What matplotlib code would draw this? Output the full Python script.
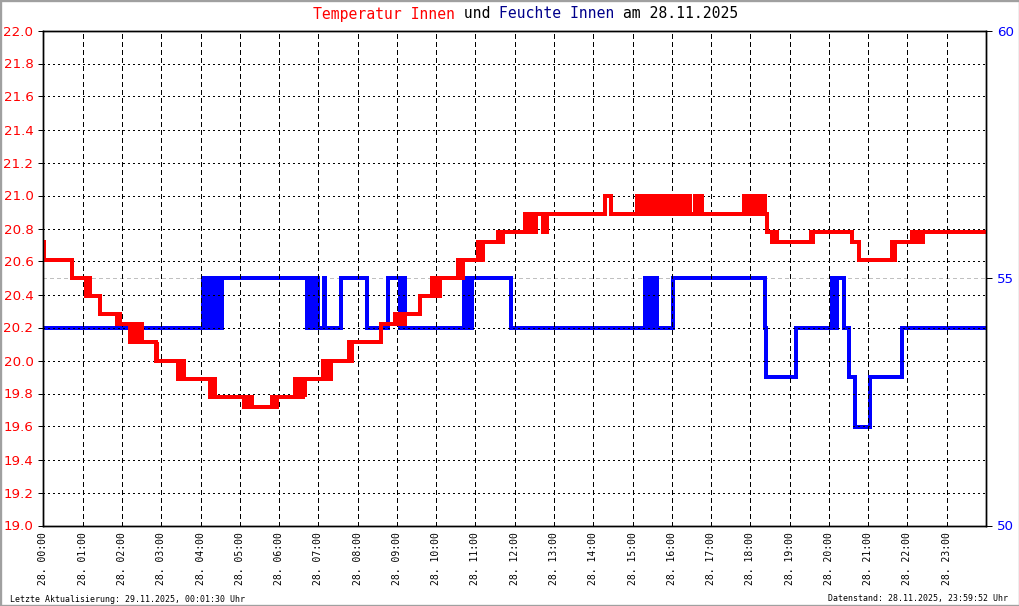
"""
Temperatur / Feuchte Innen, 28.11.2025 - Tagesverlauf
"""
import matplotlib
matplotlib.use('Agg')
import matplotlib.pyplot as plt
from matplotlib.patches import Rectangle
import numpy as np

# ── Messwerte (Minute des Tages, Wert) ──────────────────────
temp_min = [0, 1, 44,
            65, 67, 69, 70, 71,
            87,
            113, 115, 117,
            132, 134, 136, 139, 141, 144, 146, 148, 150,
            172, 173, 174,
            206, 208, 210, 212, 214,
            255, 257, 259, 261, 262,
            307, 309, 311, 313, 315, 317, 319,
            349, 351, 353, 355, 357,
            384, 386, 388, 390, 393, 395, 397, 399, 400,
            427, 429, 431, 434, 436, 438, 440,
            467, 469, 471,
            516,
            537, 539, 541, 544, 547, 550, 553,
            575,
            594, 596, 598, 600, 603, 605, 606,
            633, 635, 637, 639, 641,
            664, 666, 668, 670, 672,
            695, 697, 699, 701, 702,
            736, 738, 741, 744, 747, 750, 753,
            763, 765, 767, 769,
            858, 867,
            907, 909, 910, 912, 913, 915, 917, 919, 921, 923, 925, 927,
            929, 931, 933, 936, 942, 944, 946, 948, 950, 952, 954, 956,
            958, 960, 965, 967, 969, 971, 973, 975, 977, 979, 981, 983,
            985, 988, 995, 997, 999, 1001, 1003, 1006,
            1071, 1074, 1078, 1082, 1085, 1089, 1094, 1097, 1099, 1103,
            1105,
            1113, 1115, 1117, 1119, 1121,
            1173, 1174, 1176,
            1235, 1246,
            1297, 1299, 1301,
            1327, 1329, 1331, 1334, 1337, 1340, 1343,
            1440]
temp_val = [20.72, 20.61, 20.50,
            20.39, 20.50, 20.39, 20.50, 20.39,
            20.28,
            20.22, 20.28, 20.22,
            20.11, 20.22, 20.11, 20.22, 20.11, 20.22, 20.11, 20.22, 20.11,
            20.00, 20.11, 20.00,
            19.89, 20.00, 19.89, 20.00, 19.89,
            19.78, 19.89, 19.78, 19.89, 19.78,
            19.72, 19.78, 19.72, 19.78, 19.72, 19.78, 19.72,
            19.78, 19.72, 19.78, 19.72, 19.78,
            19.89, 19.78, 19.89, 19.78, 19.89, 19.78, 19.89, 19.78, 19.89,
            20.00, 19.89, 20.00, 19.89, 20.00, 19.89, 20.00,
            20.11, 20.00, 20.11,
            20.22,
            20.28, 20.22, 20.28, 20.22, 20.28, 20.22, 20.28,
            20.39,
            20.50, 20.39, 20.50, 20.39, 20.50, 20.39, 20.50,
            20.61, 20.50, 20.61, 20.50, 20.61,
            20.72, 20.61, 20.72, 20.61, 20.72,
            20.78, 20.72, 20.78, 20.72, 20.78,
            20.89, 20.78, 20.89, 20.78, 20.89, 20.78, 20.89,
            20.78, 20.89, 20.78, 20.89,
            21.00, 20.89,
            21.00, 20.89, 21.00, 20.89, 21.00, 20.89, 21.00, 20.89, 21.00, 20.89, 21.00, 20.89,
            21.00, 20.89, 21.00, 20.89, 21.00, 20.89, 21.00, 20.89, 21.00, 20.89, 21.00, 20.89,
            21.00, 20.89, 21.00, 20.89, 21.00, 20.89, 21.00, 20.89, 21.00, 20.89, 21.00, 20.89,
            21.00, 20.89, 21.00, 20.89, 21.00, 20.89, 21.00, 20.89,
            21.00, 20.89, 21.00, 20.89, 21.00, 20.89, 21.00, 20.89, 21.00, 20.89,
            20.78,
            20.72, 20.78, 20.72, 20.78, 20.72,
            20.78, 20.72, 20.78,
            20.72, 20.61,
            20.72, 20.61, 20.72,
            20.78, 20.72, 20.78, 20.72, 20.78, 20.72, 20.78,
            20.78]

hum_min = [0,
           244, 246, 248, 250, 252, 254, 256, 258, 260, 262, 264, 266, 268, 270, 272,
           403, 405, 407, 409, 411, 413, 415, 417, 419, 421,
           429, 430,
           455, 494, 526,
           545, 547, 549, 551, 553,
           643, 645, 647, 649, 651, 653, 655,
           715,
           919, 921, 923, 925, 927, 929, 931, 933, 935, 937,
           962,
           1102, 1104, 1150,
           1204, 1206, 1208, 1210, 1212,
           1223, 1231, 1240, 1263, 1312,
           1440]
hum_val = [54,
           55, 54, 55, 54, 55, 54, 55, 54, 55, 54, 55, 54, 55, 54, 55,
           54, 55, 54, 55, 54, 55, 54, 55, 54, 54,
           55, 54,
           55, 54, 55,
           54, 55, 54, 55, 54,
           55, 54, 55, 54, 55, 54, 55,
           54,
           55, 54, 55, 54, 55, 54, 55, 54, 55, 54,
           55,
           54, 53, 54,
           55, 54, 55, 54, 55,
           54, 53, 52, 53, 54,
           54]

hours = list(range(24))
hour_labels = [f'28. {h:02d}:00' for h in hours]
temp_ticks = np.round(np.arange(19.0, 22.01, 0.2), 1)
hum_ticks = [50, 55, 60]

RED = '#FF0000'
BLUE = '#0000FF'
NAVY = '#00008B'
MONO = 'DejaVu Sans Mono'

W, H = 1020, 606
PX = 0.72   # 1 px in pt at 100 dpi

fig = plt.figure(figsize=(W / 100, H / 100), dpi=100)
ax = fig.add_axes([43.5 / W, 1 - 525.5 / H, 942.5 / W, 495 / H])
ax2 = ax.twinx()
ax.set_zorder(ax2.get_zorder() + 1)
ax.patch.set_visible(False)
ax.set_axisbelow(True)
ax2.set_axisbelow(True)

# Feuchte (rechte Achse) unten, Temperatur darueber
ax2.plot(hum_min, hum_val, drawstyle='steps-post', color=BLUE, lw=3.6 * PX,
         solid_joinstyle='miter', solid_capstyle='butt', antialiased=False)
ax.plot(temp_min, temp_val, drawstyle='steps-post', color=RED, lw=3.6 * PX,
        solid_joinstyle='miter', solid_capstyle='butt', antialiased=False)

ax.set_xlim(0, 1440)
ax.set_ylim(19.0, 22.0)
ax2.set_ylim(50, 60)

ax.set_xticks([h * 60 for h in hours])
ax.set_xticklabels(hour_labels, rotation=90, family=MONO, fontsize=7.0,
                   va='top', ha='center')
ax.tick_params(axis='x', length=0, pad=5.0)

ax.set_yticks(temp_ticks)
ax.set_yticklabels([f'{v:.1f}' for v in temp_ticks], fontsize=9.6)
ax.tick_params(axis='y', direction='out', length=5 * PX, width=PX,
               color='black', labelcolor=RED, pad=3.6)

ax2.set_yticks(hum_ticks)
ax2.set_yticklabels([str(v) for v in hum_ticks], fontsize=9.6)
ax2.tick_params(axis='y', direction='out', length=6 * PX, width=PX,
                color='black', labelcolor=BLUE, pad=3.6)

ax.grid(axis='x', color='black', lw=PX, ls=(0, (5, 4)), antialiased=False)
ax.grid(axis='y', color='black', lw=PX, ls=(0, (2, 4)), antialiased=False)
ax2.grid(axis='y', color='#c0c0c0', lw=PX, ls=(0, (4, 4)), antialiased=False)

for a in (ax, ax2):
    for sp in a.spines.values():
        sp.set_linewidth(1.4 * PX)
        sp.set_color('black')

# ── Titel in Teilen (Festbreitenschrift) ─────────────────────
parts = [('Temperatur Innen', RED), (' und ', 'black'),
         ('Feuchte Innen', NAVY), (' am 28.11.2025', 'black')]
fs = 10.6
char_w = 0.6021 * fs / 72 * 100     # Zeichenbreite in px
x0 = 313.0
n = 0
for txt, col in parts:
    fig.text((x0 + n * char_w) / W, 1 - 18.5 / H, txt, color=col,
             family=MONO, fontsize=fs, ha='left', va='baseline')
    n += len(txt)

fig.text(10 / W, 1 - 601.5 / H,
         'Letzte Aktualisierung: 29.11.2025, 00:01:30 Uhr',
         family=MONO, fontsize=5.95, ha='left', va='baseline')
fig.text(1008.5 / W, 1 - 601.5 / H,
         'Datenstand: 28.11.2025, 23:59:52 Uhr',
         family=MONO, fontsize=5.95, ha='right', va='baseline')

fig.patches.append(Rectangle((0, 0), 1, 1, transform=fig.transFigure,
                             fill=False, edgecolor='#a0a0a0', lw=2.4))

fig.savefig('out.png', dpi=100)
plt.close()
